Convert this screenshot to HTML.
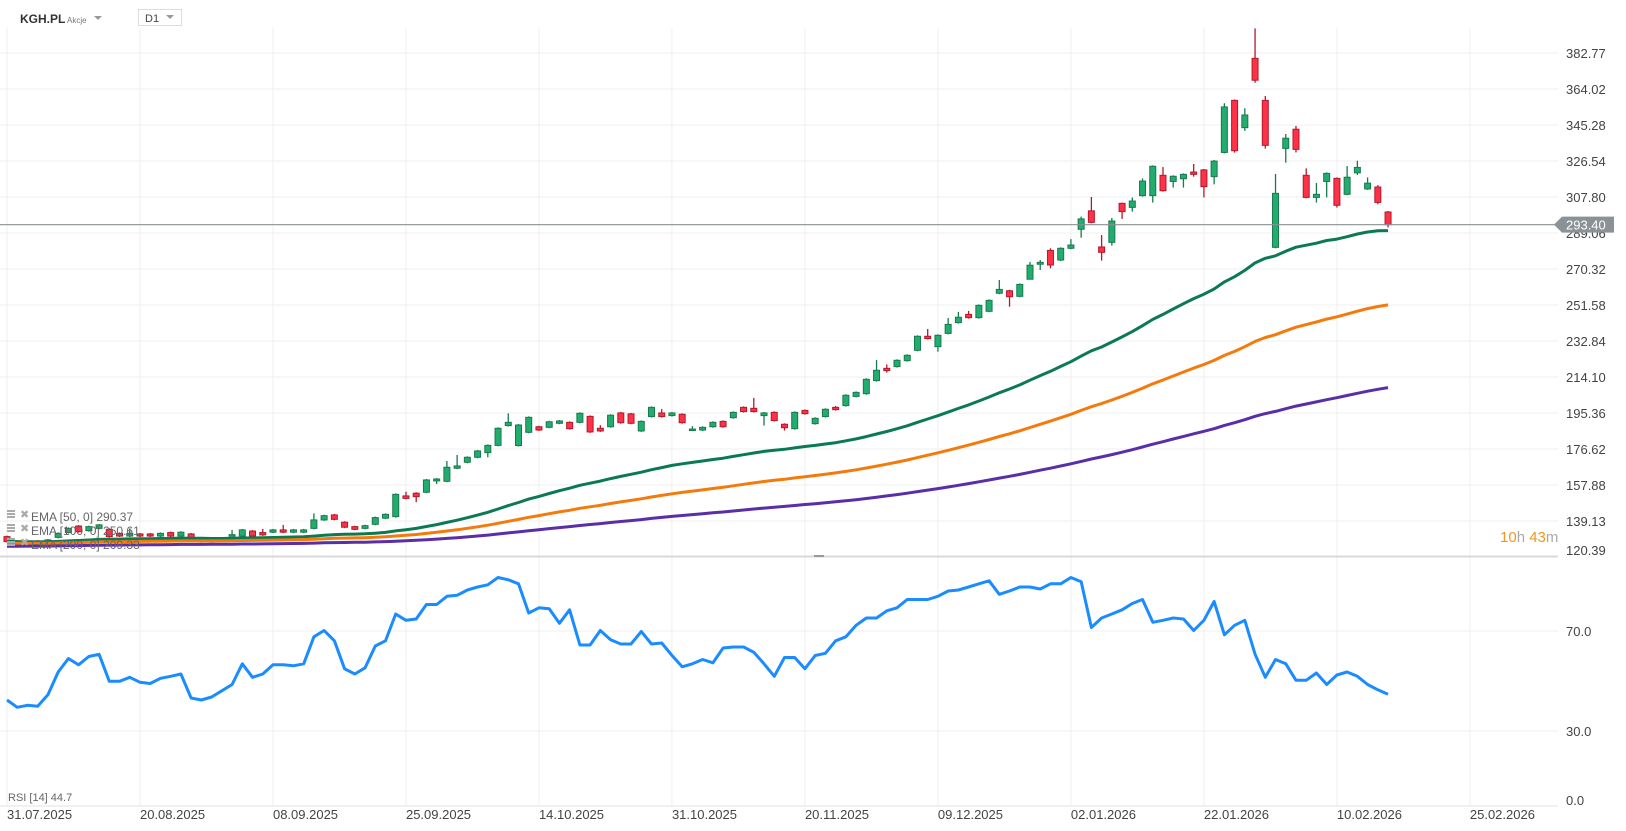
<!DOCTYPE html>
<html><head><meta charset="utf-8">
<style>
html,body{margin:0;padding:0;background:#fff;width:1626px;height:831px;overflow:hidden;font-family:"Liberation Sans",sans-serif;}
svg{display:block}
</style></head>
<body>
<svg id="chart" width="1626" height="831" xmlns="http://www.w3.org/2000/svg" font-family="Liberation Sans, sans-serif">
  <g id="grid"></g>
  <g id="candles"></g>
  <g id="emas"></g>
  <g id="rsi"></g>
  <g id="axes"></g>
  <g>
    <text x="20" y="23" font-size="12" font-weight="bold" fill="#333">KGH.PL</text>
    <text x="67" y="23" font-size="8" fill="#777">Akcje</text>
    <path d="M94 16 L102 16 L98 20 Z" fill="#999"/>
    <rect x="138.5" y="9.5" width="43" height="16" fill="#fff" stroke="#ddd"/>
    <text x="145" y="22" font-size="11" fill="#444">D1</text>
    <path d="M166 15 L174 15 L170 19 Z" fill="#999"/>
  </g>
  <g font-size="12" fill="#666">
    <g>
      <rect x="7" y="510" width="8" height="2" fill="#aaa"/><rect x="7" y="513" width="8" height="2" fill="#aaa"/><rect x="7" y="516" width="8" height="2" fill="#aaa"/>
      <text x="20" y="518" fill="#aaa" font-size="11">✖</text>
      <text x="31" y="521">EMA [50, 0] 290.37</text>
    </g>
    <g>
      <rect x="7" y="524" width="8" height="2" fill="#aaa"/><rect x="7" y="527" width="8" height="2" fill="#aaa"/><rect x="7" y="530" width="8" height="2" fill="#aaa"/>
      <text x="20" y="532" fill="#aaa" font-size="11">✖</text>
      <text x="31" y="535">EMA [100, 0] 250.61</text>
    </g>
    <g>
      <rect x="7" y="538" width="8" height="2" fill="#aaa"/><rect x="7" y="541" width="8" height="2" fill="#aaa"/><rect x="7" y="544" width="8" height="2" fill="#aaa"/>
      <text x="20" y="546" fill="#aaa" font-size="11">✖</text>
      <text x="31" y="549">EMA [200, 0] 209.33</text>
    </g>
  </g>
  <text x="1500" y="542" font-size="15"><tspan fill="#f7941d">10</tspan><tspan fill="#aaa">h </tspan><tspan fill="#f7941d">43</tspan><tspan fill="#aaa">m</tspan></text>
  <text x="8" y="801" font-size="11" fill="#666">RSI [14] 44.7</text>
</svg>
<script>
const opens=[131,128.7,128.7,128.7,127.5,130.6,133.1,136.5,134.1,135.3,134.8,132.7,131.3,132.4,132.4,131.3,133.1,131.3,132.4,130.1,130.1,129.3,131.9,131.3,133.9,133.1,133.3,134.5,133.3,133.3,135.3,139.7,142.3,138.5,136.2,135.3,137.4,140.6,141.4,152.2,153.6,154.1,160.0,159.8,166.6,169.7,172.3,174.7,178.5,188.8,178.4,185.3,188.2,187.9,190.0,190.5,190.5,193.6,187.4,188.2,195.4,194.9,186.0,193.5,195.4,194.0,194.7,186.5,186.5,188.2,191.0,192.9,198.3,197.8,194.0,195.7,189.5,187.2,196.7,189.8,193.5,198.3,199.2,204.0,205.4,212.2,218.6,219.5,222.6,228.0,235.3,229.9,236.8,242.4,246.7,245.0,248.3,257.7,259.0,256.1,265.0,272.8,280.0,275.0,281.1,291.0,300.6,281.8,284.2,304.5,302.4,308.5,308.5,319.1,315.9,317.3,320.8,321.9,318.4,331.0,358.1,343.9,380.0,358.1,281.6,333.1,343.1,319.1,307.6,315.9,317.5,309.2,320.4,312.0,313.0,300.0];
const closes=[128.4,126.7,127.2,126.7,129.3,132.7,135.3,133.6,136.2,137.1,131.0,131.3,132.7,131.3,131.3,132.7,131.3,133.3,129.3,128.4,128.4,129.9,132.0,134.5,131.3,131.9,134.5,133.3,134.5,134.5,139.7,141.9,140.0,135.9,134.8,136.7,140.9,142.6,153.0,150.9,151.8,160.5,161.0,167.1,167.8,172.3,175.6,178.5,187.4,190.5,189.1,193.1,186.5,190.8,191.2,187.2,195.2,185.5,186.0,194.2,190.3,190.0,191.0,198.3,193.5,195.4,190.3,187.0,187.9,190.5,188.2,195.7,196.1,196.1,195.4,191.4,187.7,195.7,195.0,192.6,197.3,197.1,204.6,206.1,212.9,217.6,217.4,222.8,225.4,235.3,234.1,235.8,241.5,245.2,245.0,251.4,254.0,259.7,255.9,262.3,272.3,273.8,272.4,281.1,282.8,296.4,294.6,279.0,295.3,300.2,305.7,316.1,323.8,311.1,318.6,319.6,319.6,313.2,326.5,354.7,331.9,350.5,368.6,334.7,309.7,338.4,332.6,307.6,309.2,320.1,303.5,318.1,323.2,315.0,305.0,293.4];
const highs=[131.5,129.2,129.2,129.2,129.8,133.2,135.8,137.0,136.7,137.6,135.3,133.2,135.3,132.9,132.9,133.2,133.6,133.8,132.9,130.6,130.6,130.4,134.5,135.0,134.4,135.0,135.0,137.1,135.0,135.0,143.1,142.4,142.8,139.0,136.7,137.2,141.4,143.1,153.5,154.4,154.1,161.0,161.5,170.4,173.5,172.8,176.1,179.0,187.9,195.2,189.6,193.6,188.7,191.3,191.7,191.0,195.7,194.1,189.0,194.7,195.9,195.4,191.5,198.8,197.4,195.9,195.2,188.5,188.4,191.0,191.5,196.2,198.8,203.2,195.9,196.2,190.0,196.2,197.2,193.1,197.8,199.0,205.1,206.6,213.4,222.9,220.6,223.3,225.9,235.8,239.1,236.3,244.8,248.0,248.5,251.9,254.5,264.6,259.5,262.8,274.0,275.0,281.1,281.6,285.9,297.6,307.8,288.0,296.9,304.9,307.5,317.5,324.3,323.4,319.1,320.1,325.0,322.4,327.1,356.6,358.6,354.0,395.6,360.4,319.8,340.6,344.8,322.7,315.1,320.6,318.0,323.9,326.7,318.0,314.0,300.5];
const lows=[127.9,126.2,126.7,126.2,127.0,130.1,132.6,133.1,133.6,134.8,130.5,130.8,130.8,130.8,130.8,130.8,130.8,130.8,128.8,127.9,127.9,128.8,131.4,130.8,130.8,131.4,132.8,132.8,132.8,132.8,134.8,139.2,139.5,135.4,134.3,134.8,136.9,140.1,140.9,150.4,148.9,153.6,158.4,159.3,166.1,169.2,171.8,172.3,178.0,188.3,177.9,184.8,186.0,187.4,189.5,186.7,190.0,185.0,185.5,187.7,189.8,189.5,185.5,193.0,193.0,193.5,189.8,186.0,186.0,187.7,187.7,192.4,195.6,195.6,188.8,190.9,186.2,186.7,194.5,189.3,193.0,196.6,198.7,203.5,204.9,211.7,216.4,219.0,222.1,227.5,233.6,227.3,236.3,241.9,244.5,244.5,247.8,257.2,250.7,255.6,266.0,269.8,270.7,274.5,280.6,286.6,294.1,274.7,282.5,296.4,300.2,308.0,304.9,310.6,312.7,312.7,318.4,307.6,314.4,330.5,330.9,342.2,367.3,333.0,281.1,325.7,331.0,307.1,304.9,307.6,302.3,308.7,319.3,311.5,304.0,292.0];
const rsiValues=[42.4,39.5,40.3,39.9,44.5,53.6,59.0,56.5,59.8,60.7,49.9,49.9,51.5,49.5,49.0,51.1,51.9,52.8,43.2,42.4,43.6,46.1,48.6,56.9,51.5,52.8,56.5,56.5,56.1,56.9,67.7,70.2,66.1,54.9,52.8,55.3,64.0,66.1,76.8,74.3,74.8,80.6,80.6,83.9,84.3,86.4,87.6,88.5,91.4,90.5,88.9,77.2,79.3,78.9,73.1,78.5,64.4,64.4,70.2,66.5,64.8,64.8,69.8,64.8,65.2,60.2,55.7,56.9,58.6,57.3,63.2,63.6,63.6,61.5,56.9,51.9,59.4,59.4,54.9,60.2,61.1,66.1,67.7,72.3,75.2,75.2,78.1,79.3,82.6,82.6,82.6,83.9,86.0,86.4,87.6,88.9,90.1,84.7,86.0,87.6,87.6,86.8,88.9,88.9,91.4,89.7,71.4,75.2,76.8,78.5,81.0,82.6,73.5,74.3,75.2,74.8,70.2,74.3,81.8,68.5,72.3,74.3,60.7,51.5,58.6,56.9,50.3,50.3,53.2,48.6,52.4,53.6,51.9,48.6,46.5,44.7];
const priceTicks=["382.77","364.02","345.28","326.54","307.80","289.06","270.32","251.58","232.84","214.10","195.36","176.62","157.88","139.13","120.39"];
const rsiTicks=[70,30,0];
const dateLabels=["31.07.2025","20.08.2025","08.09.2025","25.09.2025","14.10.2025","31.10.2025","20.11.2025","09.12.2025","02.01.2026","22.01.2026","10.02.2026","25.02.2026"];
const dateIndex=[0,13,26,39,52,65,78,91,104,117,130,143];
const emaPeriods=[50,100,200];
const emaSeeds=[128.5,127.5,126];
const lastPrice=293.40;

const NS="http://www.w3.org/2000/svg";
const PMAX=382.77, PMIN=120.39, PY0=53, PY1=557;
const xOf=i=>7+i*10.23;
const yP=v=>PY0+(PMAX-v)*(PY1-PY0)/(PMAX-PMIN);
const yR=r=>806-r*2.5;
function mk(tag,attrs,parent){const e=document.createElementNS(NS,tag);for(const k in attrs)e.setAttribute(k,attrs[k]);parent.appendChild(e);return e;}
const grid=document.getElementById('grid'),cg=document.getElementById('candles'),eg=document.getElementById('emas'),rg=document.getElementById('rsi'),ag=document.getElementById('axes');

priceTicks.forEach((t,k)=>{
  const y=yP(parseFloat(t));
  if(k<priceTicks.length-1){const l=mk('line',{x1:0,x2:1558,y1:y,y2:y,stroke:'#efefef','stroke-width':1},grid);
  
  }
  const tx=mk('text',{x:1566,y:(k==priceTicks.length-1?y-2:y+5),'font-size':13,fill:'#444'},ag);
  tx.textContent=t;
  
  
});
dateLabels.forEach((d,k)=>{
  const x=xOf(dateIndex[k]);
  const l=mk('line',{x1:x,x2:x,y1:28,y2:806,stroke:'#efefef','stroke-width':1},grid);
  
  
  const t=mk('text',{x:x,y:819,'font-size':13,fill:'#444'},ag);
  t.textContent=d;
  
  
});
rsiTicks.forEach(r=>{
  const y=yR(r);
  const l=mk('line',{x1:0,x2:1558,y1:y,y2:y,stroke:r==0?'#e2e2e2':'#efefef','stroke-width':1},grid);
  
  
  const t=mk('text',{x:1566,y:r==0?y-1:y+5,'font-size':13,fill:'#444'},ag);
  t.textContent=r.toFixed(1);
  
  
});
const sep=mk('line',{x1:0,x2:1558,y1:556.5,y2:556.5,stroke:'#d8d8d8','stroke-width':2},ag);


const hd=mk('rect',{x:814,y:555,width:10,height:2,fill:'#999'},ag);



closes.forEach((c,i)=>{
  const o=opens[i],h=highs[i],l=lows[i],up=c>=o;
  const x=xOf(i);
  const g=mk('g',{},cg);
  
  
  const stroke=up?'#177a4e':'#b3192b',fill=up?'#22ad6f':'#fd3148';
  mk('line',{x1:x,x2:x,y1:yP(h),y2:yP(l),stroke:stroke,'stroke-width':1.3},g);
  const yt=yP(Math.max(o,c)),yb=yP(Math.min(o,c));
  mk('rect',{x:x-3,y:yt,width:6,height:Math.max(1.5,yb-yt),fill:fill,stroke:stroke,'stroke-width':1},g);
});

const emaColors=['#0b7a52','#f47a0c','#5a2ea6'];
emaPeriods.forEach((p,k)=>{
  const a=2/(p+1);let e=emaSeeds[k];const pts=[];
  closes.forEach((c,i)=>{e=e+a*(c-e);pts.push(xOf(i).toFixed(1)+','+yP(e).toFixed(1));});
  const pl=mk('polyline',{points:pts.join(' '),fill:'none',stroke:emaColors[k],'stroke-width':3,'stroke-linejoin':'round'},eg);
  
  
});

const lp=mk('line',{x1:0,x2:1558,y1:yP(lastPrice),y2:yP(lastPrice),stroke:'#8a8f93','stroke-width':1.2},ag);


const yl=yP(lastPrice);
const tag=mk('path',{d:`M1554 ${yl} L1562 ${yl-8} L1614 ${yl-8} L1614 ${yl+8} L1562 ${yl+8} Z`,fill:'#8a9296'},ag);


const tt=mk('text',{x:1566,y:yl+5,'font-size':13,fill:'#fff'},ag);
tt.textContent=lastPrice.toFixed(2);



const rp=rsiValues.map((r,i)=>xOf(i).toFixed(1)+','+yR(r).toFixed(1)).join(' ');
const rl=mk('polyline',{points:rp,fill:'none',stroke:'#1a8cff','stroke-width':3,'stroke-linejoin':'round'},rg);


</script>
</body></html>
